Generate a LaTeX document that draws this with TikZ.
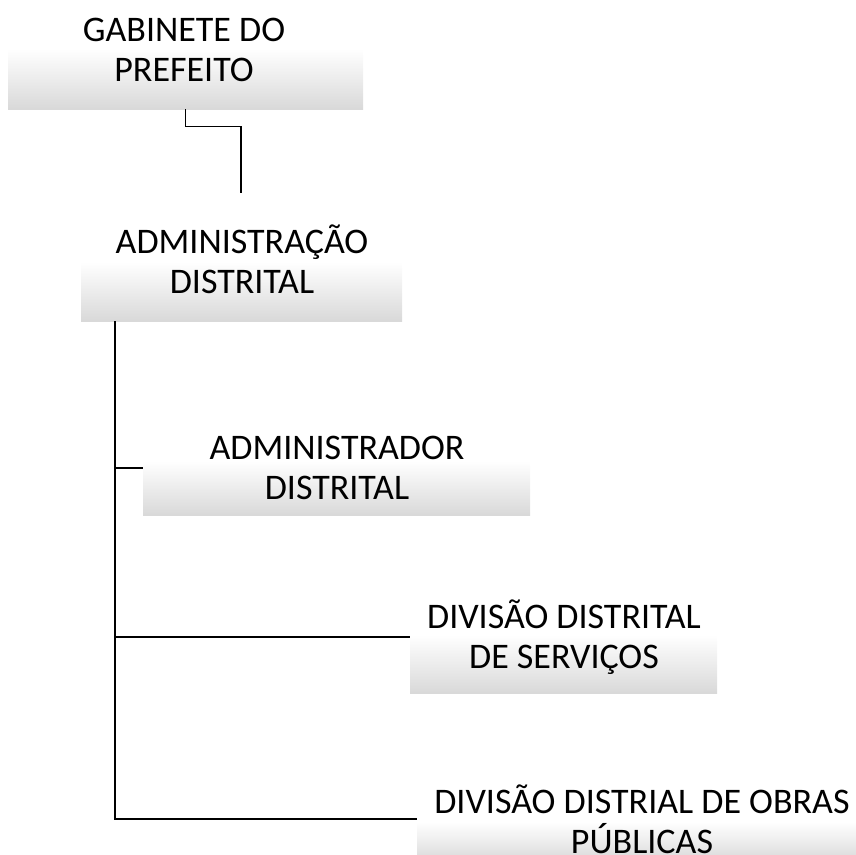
\documentclass[tikz,border=0pt]{standalone}
\usepackage{fontspec}
\setmainfont{Carlito}
\usepackage{tikz}

\begin{document}
\begin{tikzpicture}[x=1pt,y=-1pt,
    caixa/.style={rectangle, inner sep=0pt, top color=white, bottom color=black!15, draw=none},
    rotulo/.style={align=center, inner sep=0pt, font=\fontsize{36}{40}\selectfont},
    liga/.style={line width=1.4pt}]
    \useasboundingbox (0,0) rectangle (856,854);

    \node[caixa, minimum width=355pt, minimum height=60pt](gab)at(185.5,79){};
    \node[rotulo](gabt)at(184,50){GABINETE DO\\PREFEITO};

    \node[caixa, minimum width=321pt, minimum height=59pt](adm)at(241.5,291.5){};
    \node[rotulo](admt)at(242,259){ADMINISTRAÇÃO\\DISTRITAL};

    \node[caixa, minimum width=387pt, minimum height=54pt](ador)at(336.5,488){};
    \node[rotulo](adort)at(337,468){ADMINISTRADOR\\DISTRITAL};

    \node[caixa, minimum width=307pt, minimum height=58pt](serv)at(563.5,664){};
    \node[rotulo](servt)at(564,637){DIVISÃO DISTRITAL\\DE SERVIÇOS};

    \node[caixa, minimum width=439pt, minimum height=40pt](obra)at(636.5,842){};
    \node[rotulo](obrat)at(642,819){DIVISÃO DISTRIAL DE OBRAS\\PÚBLICAS};

    \coordinate(fim)at(241,193);
    \coordinate(tronco)at(115,321);
    \draw[liga](gab.south)--++(0,17)-|(fim);
    \draw[liga](tronco)|-(ador.west|-adort.center);
    \draw[liga](tronco)|-(serv.west|-servt.center);
    \draw[liga](tronco)|-(obra.west|-obrat.center);
\end{tikzpicture}
\end{document}
